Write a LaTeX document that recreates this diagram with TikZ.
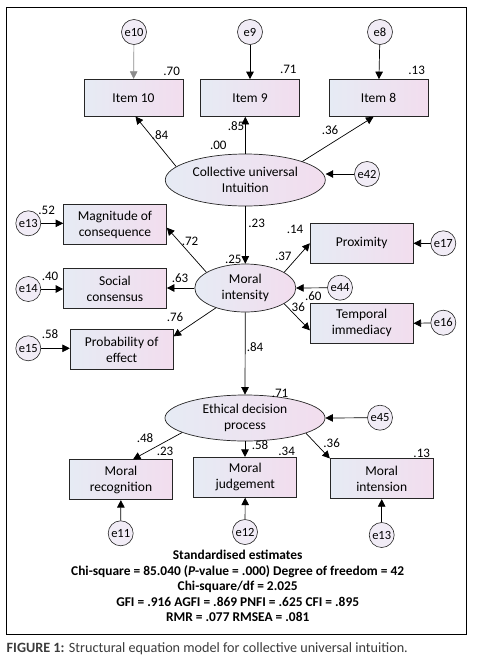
\documentclass[tikz,border=0pt]{standalone}
\usepackage{fontspec}
\setmainfont{Carlito}
\usetikzlibrary{shapes.geometric,arrows.meta,calc}
\definecolor{boxL}{RGB}{230,235,244}
\definecolor{boxR}{RGB}{242,221,238}
\definecolor{errfill}{RGB}{241,236,246}
\definecolor{capgray}{RGB}{60,60,60}
\begin{document}
\begin{tikzpicture}[x=1pt,y=-1pt,
  box/.style={draw=black!85, line width=0.7pt, left color=boxL, right color=boxR,
    minimum width=103pt, minimum height=40pt, align=center, inner sep=0pt,
    font=\fontsize{13.5}{16}\selectfont},
  itembox/.style={box, minimum width=99pt, minimum height=37pt},
  lat/.style={ellipse, draw=black!85, line width=0.7pt, left color=boxL, right color=boxR,
    align=center, inner sep=0pt, font=\fontsize{13.5}{16}\selectfont},
  err/.style={circle, draw=black!85, line width=0.6pt, fill=errfill, minimum size=25pt,
    inner sep=0pt, font=\fontsize{12.5}{12.5}\selectfont},
  arr/.style={-{Triangle[length=7.5pt,width=7.5pt]}, line width=0.7pt},
  lab/.style={inner sep=0pt, font=\fontsize{13}{13}\selectfont}]
\useasboundingbox (0,0) rectangle (481,667);
\fill[white] (0,0) rectangle (481,667);
\draw[line width=0.8pt] (6.7,7.3) rectangle (466,634);

% top layer
\node[err] (e10) at (134,32) {e10};
\node[err] (e9) at (250,32) {e9};
\node[err] (e8) at (380,32) {e8};
\node[itembox] (i10) at (133.5,97.7) {Item 10};
\node[itembox] (i9) at (250,98) {Item 9};
\node[itembox] (i8) at (378.5,98) {Item 8};
\node[lat, minimum width=160pt, minimum height=52pt] (cui) at (245.3,180) {Collective universal\\Intuition};
\node[err] (e42) at (367,174) {e42};

% middle layer
\node[box] (mag) at (115,224.7) {Magnitude of\\consequence};
\node[box] (soc) at (115,288.7) {Social\\consensus};
\node[box] (prob) at (121.7,349.7) {Probability of\\effect};
\node[err] (e13a) at (28.3,223.3) {e13};
\node[err] (e14) at (28.3,289) {e14};
\node[err] (e15) at (28.3,348.3) {e15};
\node[lat, minimum width=101pt, minimum height=48pt] (mi) at (245.3,288) {Moral\\intensity};
\node[box] (prox) at (361.7,243.3) {Proximity};
\node[box] (temp) at (361.7,323.3) {Temporal\\immediacy};
\node[err] (e17) at (443.3,243.3) {e17};
\node[err] (e16) at (443.3,322.7) {e16};
\node[err] (e44) at (340,287.7) {e44};

% bottom layer
\node[lat, minimum width=160pt, minimum height=46pt] (edp) at (245,418) {Ethical decision\\process};
\node[err] (e45) at (380,417.7) {e45};
\node[box] (rec) at (121,479.7) {Moral\\recognition};
\node[box] (jud) at (245.3,477.3) {Moral\\judgement};
\node[box] (int) at (381.7,478.8) {Moral\\intension};
\node[err] (e11) at (120.7,533.3) {e11};
\node[err] (e12) at (245,532) {e12};
\node[err] (e13b) at (381.7,535) {e13};

% connectors
\draw[arr, draw=black!45] (e10) -- (i10);
\draw[arr] (e9) -- (i9);
\draw[arr] (e8) -- (i8);
\draw[arr] (cui.169) -- ($(i10.south)+(2,0)$);
\draw[arr] (cui.north) -- (cui.north |- i9.south);
\draw[arr] (cui.18) -- ($(i8.south)+(-5,0)$);
\draw[arr] (e42) -- (cui.east |- e42);
\draw[arr] (cui.south) -- (mi.north);
\draw[arr] (mi.158) -- ($(mag.east)+(0,3)$);
\draw[arr] (mi.west) -- (mi.west -| soc.east);
\draw[arr] (mi.214) -- ($(prob.north east)+(0,7)$);
\draw[arr] (mi.22) -- (prox.west);
\draw[arr] (mi.338) -- ($(temp.west)+(0,7)$);
\draw[arr] (e44) -- (mi.east);
\draw[arr] (e17) -- (prox.east);
\draw[arr] (e16) -- (temp.east);
\draw[arr] (e13a) -- (e13a -| mag.west);
\draw[arr] (e14) -- (e14 -| soc.west);
\draw[arr] (e15) -- (e15 -| prob.west);
\draw[arr] (mi.south) -- (edp.north);
\draw[arr] (e45) -- (edp.east);
\draw[arr] (edp.193) -- ($(rec.north)+(12,0)$);
\draw[arr] (edp.south) -- (edp.south |- jud.north);
\draw[arr] (edp.346) -- (int.north west);
\draw[arr] (e11) -- (rec);
\draw[arr] (e12) -- (jud);
\draw[arr] (e13b) -- (int);

% labels
\node[lab] (l1) at (171.7,71) {.70};
\node[lab] (l2) at (288.3,69.3) {.71};
\node[lab] (l3) at (416.7,70.7) {.13};
\node[lab] (l4) at (160,135) {.84};
\node[lab] (l5) at (218.3,145) {.00};
\node[lab] (l6) at (236,126) {.85};
\node[lab] (l7) at (330,130) {.36};
\node[lab] (l8) at (46.7,210.7) {.52};
\node[lab] (l9) at (50,276) {.40};
\node[lab] (l10) at (50,334) {.58};
\node[lab] (l11) at (256.7,223.3) {.23};
\node[lab] (l12) at (295,229.3) {.14};
\node[lab] (l13) at (190,241.7) {.72};
\node[lab] (l14) at (233.3,259) {.25};
\node[lab] (l15) at (283.3,256.7) {.37};
\node[lab] (l16) at (180,278.3) {.63};
\node[lab] (l17) at (313.3,296) {.60};
\node[lab] (l18) at (298.3,306.7) {36};
\node[lab] (l19) at (175,316.7) {.76};
\node[lab] (l20) at (255,346.7) {.84};
\node[lab] (l21) at (280,393.3) {.71};
\node[lab] (l22) at (145,437.7) {.48};
\node[lab] (l23) at (165,451.7) {.23};
\node[lab] (l24) at (260,445) {.58};
\node[lab] (l25) at (286.7,451) {.34};
\node[lab] (l26) at (331.7,442.7) {.36};
\node[lab] (l27) at (421.7,453.3) {.13};

% fit statistics
\node[align=center, inner sep=0pt, font=\fontsize{13.4}{15.6}\selectfont\bfseries] (fit) at (237.7,586)
  {Standardised estimates\\
   Chi-square = 85.040 (\textit{P}-value = .000) Degree of freedom = 42\\
   Chi-square/df = 2.025\\
   GFI = .916 AGFI = .869 PNFI = .625 CFI = .895\\
   RMR = .077 RMSEA = .081};

% caption
\node[anchor=west, inner sep=0pt, text=capgray, font=\fontsize{14.2}{14.2}\selectfont] (cap) at (6.5,648.3)
  {\textbf{FIGURE 1:} Structural equation model for collective universal intuition.};
\end{tikzpicture}
\end{document}
